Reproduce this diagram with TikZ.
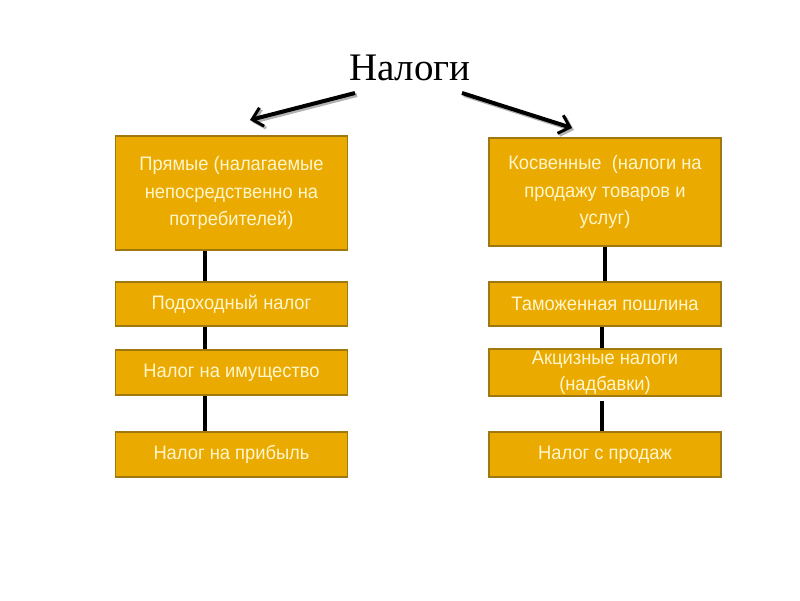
\documentclass[tikz,border=0pt]{standalone}
\usepackage{fontspec}
\setmainfont{Liberation Serif}
\newfontfamily\boxfont[FakeStretch=0.94]{Liberation Sans}
\usetikzlibrary{arrows.meta}
\definecolor{boxfill}{HTML}{EBAA00}
\definecolor{boxline}{HTML}{A07810}
\definecolor{boxtext}{HTML}{FFF6CC}
\tikzset{
  taxbox/.style={draw=boxline, line width=1.8pt, fill=boxfill, text=boxtext,
    minimum width=232pt, inner sep=2pt, align=center,
    font=\boxfont\fontsize{19.5}{27.5}\selectfont},
  link/.style={line width=4pt, black},
  bigarrow/.style={line width=4pt, -{Straight Barb[length=10pt,width=19pt,line width=3pt]}},
}
\begin{document}
\begin{tikzpicture}[x=1pt,y=-1pt]
\useasboundingbox (0,0) rectangle (800,600);
\node[font=\fontsize{39}{44}\selectfont] (title) at (410,68) {Налоги};
\coordinate (la) at (355,93);
\coordinate (lb) at (250,120);
\coordinate (ra) at (462,93);
\coordinate (rb) at (572,128);
\draw[bigarrow, gray!60, transform canvas={xshift=2pt,yshift=-2pt}] (la) -- (lb);
\draw[bigarrow, gray!60, transform canvas={xshift=2pt,yshift=-2pt}] (ra) -- (rb);
\draw[bigarrow] (la) -- (lb);
\draw[bigarrow] (ra) -- (rb);

\node[taxbox, minimum height=114pt] (l1) at (231.5,193) {Прямые (налагаемые\\непосредственно на\\потребителей)};
\node[taxbox, minimum height=44pt] (l2) at (231.5,304) {Подоходный налог};
\node[taxbox, minimum height=45pt] (l3) at (231.5,372.5) {Налог на имущество};
\node[taxbox, minimum height=45pt] (l4) at (231.5,454.5) {Налог на прибыль};

\node[taxbox, minimum height=108pt] (r1) at (605,192) {Косвенные\ \ (налоги на\\продажу товаров и\\услуг)};
\node[taxbox, minimum height=44pt] (r2) at (605,304) {Таможенная пошлина};
\node[taxbox, minimum height=45pt, font=\boxfont\fontsize{19.5}{26}\selectfont] (r3) at (605,372.5) {Акцизные налоги\\(надбавки)};
\node[taxbox, minimum height=45pt] (r4) at (605,454.5) {Налог с продаж};

\draw[link] ([xshift=-26.5pt]l1.south) -- ([xshift=-26.5pt]l2.north);
\draw[link] ([xshift=-26.5pt]l2.south) -- ([xshift=-26.5pt]l3.north);
\draw[link] ([xshift=-26.5pt]l3.south) -- ([xshift=-26.5pt]l4.north);
\draw[link] (r1.south) -- (r2.north);
\draw[link] ([xshift=-3pt]r2.south) -- ([xshift=-3pt]r3.north);
\draw[link] ([xshift=-3pt,yshift=-4pt]r3.south) -- ([xshift=-3pt]r4.north);
\end{tikzpicture}
\end{document}
